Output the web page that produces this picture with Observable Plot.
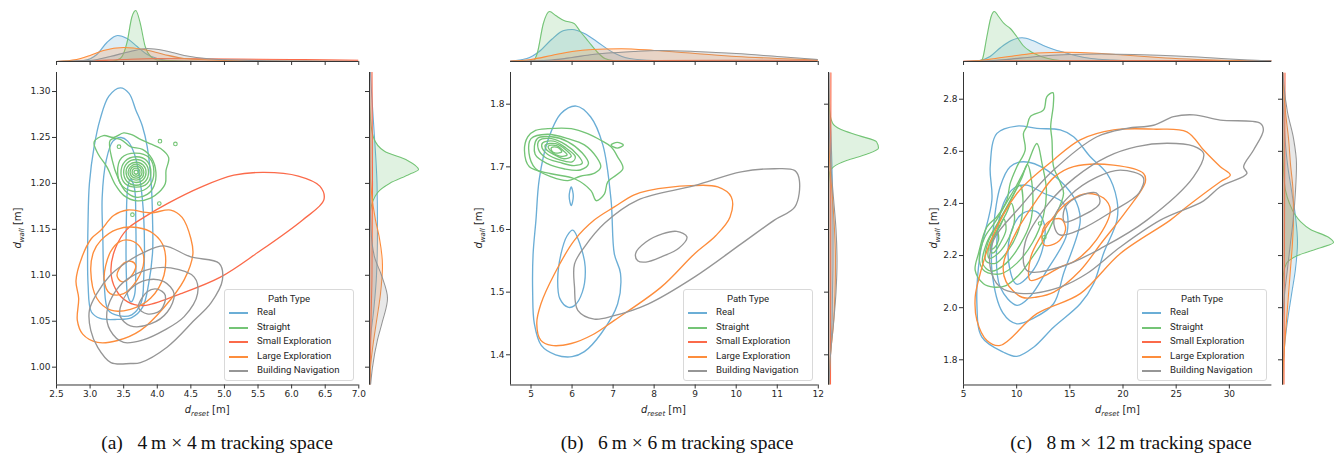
<!DOCTYPE html>
<html><head><meta charset="utf-8">
<script src="https://cdn.jsdelivr.net/npm/d3@7"></script>
<script src="https://cdn.jsdelivr.net/npm/@observablehq/plot@0.6"></script>
<style>
html,body{margin:0;padding:0;background:#fff;}
#root{position:relative;width:1340px;height:460px;overflow:hidden;background:#fff;}
.lab{font-family:"DejaVu Sans",sans-serif;font-size:10px;color:#262626;white-space:nowrap;}
.lab .sb{font-size:7px;position:relative;top:2.5px;font-style:italic;}
.cap{font-family:"Liberation Serif",serif;font-size:19.5px;color:#111;white-space:nowrap;transform:translateX(-50%);}
.leg{border:1px solid #d9d9d9;border-radius:3px;background:rgba(255,255,255,0.85);font-family:Roboto,"Noto Sans",sans-serif;font-size:9.6px;color:#262626;box-sizing:border-box;}
.leg .t{position:absolute;left:0;right:0;text-align:center;}
.leg .r{position:absolute;left:0;white-space:nowrap;}
.leg .sw{position:absolute;height:2px;}
</style></head>
<body><div id="root"></div>
<script>
// ---------- categories / styles ----------
const pathTypes = ["Real","Straight","Small Exploration","Large Exploration","Building Navigation"];
const palette = ["#6baed6","#74c476","#fb6a4a","#fd8d3c","#969696"];
const legendTitle = "Path Type";
const captions = ["(a)\u2002 4\u2009m × 4\u2009m tracking space","(b)\u2002 6\u2009m × 6\u2009m tracking space","(c)\u2002 8\u2009m × 12\u2009m tracking space"];

// ---------- axes (values) ----------
const xDomA=[2.5,7.0], yDomA=[0.9806,1.3207];
const xTicksA=[2.5,3.0,3.5,4.0,4.5,5.0,5.5,6.0,6.5,7.0], yTicksA=[1.00,1.05,1.10,1.15,1.20,1.25,1.30];
const xDomB=[4.5,12], yDomB=[1.3518,1.8506];
const xTicksB=[5,6,7,8,9,10,11,12], yTicksB=[1.4,1.5,1.6,1.7,1.8];
const xDomC=[5,34], yDomC=[1.7033,2.9025];
const xTicksC=[5,10,15,20,25,30], yTicksC=[1.8,2.0,2.2,2.4,2.6,2.8];

// ---------- panel (a) contours: closed rings of [d_reset, d_wall] ----------
const contA_Real = [
 [[3.45,1.304],[3.58,1.298],[3.68,1.28],[3.78,1.262],[3.85,1.24],[3.91,1.20],[3.93,1.16],[3.93,1.125],[3.87,1.09],[3.78,1.065],[3.62,1.054],[3.40,1.052],[3.15,1.053],[3.02,1.06],[2.97,1.09],[2.97,1.16],[2.99,1.20],[3.06,1.24],[3.15,1.27],[3.28,1.295]],
 [[3.46,1.250],[3.56,1.246],[3.66,1.232],[3.75,1.20],[3.80,1.16],[3.80,1.10],[3.76,1.07],[3.62,1.057],[3.42,1.056],[3.27,1.062],[3.21,1.09],[3.19,1.14],[3.18,1.185],[3.24,1.225],[3.34,1.246]],
 [[3.60,1.205],[3.66,1.195],[3.68,1.16],[3.68,1.10],[3.66,1.078],[3.61,1.071],[3.56,1.078],[3.54,1.10],[3.54,1.16],[3.56,1.195]]
];
const contA_Straight = [
 [[3.06,1.245],[3.2,1.252],[3.35,1.25],[3.5,1.255],[3.62,1.253],[3.75,1.248],[3.9,1.243],[4.05,1.238],[4.17,1.228],[4.13,1.214],[4.12,1.2],[4.02,1.19],[3.9,1.184],[3.7,1.181],[3.5,1.187],[3.38,1.198],[3.25,1.218],[3.12,1.232]],
 [[3.3,1.247],[3.45,1.248],[3.6,1.24],[3.78,1.237],[3.92,1.227],[3.98,1.212],[3.95,1.197],[3.85,1.188],[3.68,1.185],[3.52,1.192],[3.42,1.205],[3.33,1.225]],
 [[3.95,1.213],[3.88,1.228],[3.68,1.233],[3.47,1.228],[3.41,1.212],[3.48,1.197],[3.69,1.191],[3.88,1.197]],
 [[3.905,1.212],[3.84,1.225],[3.68,1.229],[3.52,1.224],[3.46,1.211],[3.52,1.200],[3.69,1.196],[3.85,1.200]],
 [[3.87,1.212],[3.82,1.222],[3.685,1.226],[3.55,1.222],[3.50,1.212],[3.55,1.202],[3.685,1.198],[3.82,1.202]],
 [[3.833,1.212],[3.79,1.220],[3.684,1.223],[3.58,1.220],[3.535,1.212],[3.58,1.204],[3.684,1.201],[3.79,1.204]],
 [[3.80,1.212],[3.77,1.218],[3.684,1.221],[3.60,1.218],[3.565,1.212],[3.60,1.206],[3.684,1.2035],[3.77,1.206]],
 [[3.773,1.212],[3.747,1.217],[3.684,1.2187],[3.621,1.217],[3.595,1.212],[3.621,1.2075],[3.684,1.2057],[3.747,1.2075]],
 [[3.743,1.2122],[3.726,1.2153],[3.684,1.2166],[3.642,1.2153],[3.625,1.2122],[3.642,1.2091],[3.684,1.2078],[3.726,1.2091]],
 [[3.714,1.2122],[3.705,1.2137],[3.684,1.2144],[3.663,1.2137],[3.654,1.2122],[3.663,1.2107],[3.684,1.21],[3.705,1.2107]]
];
const dotsA_Straight = [[3.43,1.240],[4.04,1.246],[4.27,1.243],[4.03,1.178],[3.63,1.166]];
const contA_Small = [
 [[3.31,1.105],[3.38,1.13],[3.55,1.15],[3.8,1.163],[4.15,1.178],[4.65,1.196],[5.14,1.209],[5.59,1.212],[6.1,1.208],[6.42,1.197],[6.48,1.182],[6.16,1.160],[5.5,1.125],[4.94,1.098],[4.35,1.080],[3.80,1.067],[3.56,1.071],[3.38,1.085]]
];
const contA_Large = [
 [[3.16,1.149],[3.35,1.165],[3.56,1.171],[3.9,1.168],[4.2,1.171],[4.37,1.163],[4.5,1.14],[4.53,1.123],[4.4,1.095],[4.1,1.065],[3.75,1.040],[3.41,1.029],[3.11,1.027],[2.89,1.036],[2.81,1.051],[2.83,1.075],[2.79,1.094],[2.88,1.12],[3.02,1.14]],
 [[3.16,1.138],[3.4,1.15],[3.7,1.152],[3.95,1.145],[4.1,1.13],[4.1,1.10],[3.9,1.075],[3.6,1.063],[3.31,1.062],[3.1,1.075],[3.01,1.105],[3.05,1.125]],
 [[3.21,1.095],[3.3,1.125],[3.45,1.137],[3.6,1.138],[3.75,1.13],[3.8,1.115],[3.7,1.095],[3.5,1.08],[3.3,1.08]],
 [[3.40,1.10],[3.5,1.113],[3.62,1.115],[3.68,1.11],[3.6,1.098],[3.47,1.093]]
];
const contA_Building = [
 [[2.99,1.062],[3.1,1.08],[3.3,1.1],[3.5,1.112],[3.8,1.125],[4.1,1.132],[4.5,1.12],[4.92,1.113],[4.97,1.095],[4.8,1.07],[4.55,1.051],[4.15,1.022],[3.75,1.005],[3.6,1.004],[3.31,1.005],[3.11,1.022],[3.01,1.04]],
 [[3.25,1.06],[3.4,1.085],[3.6,1.098],[3.9,1.107],[4.2,1.108],[4.55,1.098],[4.6,1.08],[4.4,1.055],[4.1,1.04],[3.8,1.03],[3.5,1.027],[3.3,1.04]],
 [[3.45,1.065],[3.6,1.085],[3.85,1.095],[4.1,1.093],[4.25,1.08],[4.15,1.06],[3.9,1.047],[3.6,1.045],[3.45,1.055]],
 [[3.72,1.065],[3.85,1.082],[4.0,1.085],[4.12,1.078],[4.05,1.062],[3.85,1.058]]
];
// marginals (a): [value, density height]
const topA_Real=[[2.5,0],[2.9,1],[3.1,7],[3.25,19],[3.41,26],[3.55,23],[3.7,15],[3.85,7],[4.0,3],[4.2,1],[4.5,0.3],[5,0],[7,0]];
const topA_Straight=[[2.5,0],[3.3,0],[3.45,3],[3.55,19],[3.62,44],[3.68,51],[3.74,40],[3.82,15],[3.9,5],[4.0,1.5],[4.3,0.5],[5,0],[7,0]];
const topA_Small=[[2.5,0],[3.0,0.5],[3.5,2],[4.0,3],[5.0,2.5],[6.0,2],[7.0,1.2]];
const topA_Large=[[2.5,0],[2.8,2],[3.0,6],[3.2,11],[3.5,14],[3.8,12],[4.1,7],[4.4,3],[4.8,1.5],[5.5,0.5],[7,0]];
const topA_Building=[[2.5,0],[3.0,1],[3.3,5],[3.6,10],[3.85,13],[4.1,11],[4.4,6],[4.8,2.5],[5.5,1],[6.5,0.3],[7,0]];
const sideA_Real=[[0.98,0.3],[1.03,1],[1.06,4],[1.1,7],[1.15,8],[1.2,7.5],[1.25,5],[1.3,2],[1.321,1]];
const sideA_Straight=[[0.98,0],[1.15,0],[1.17,1],[1.19,8],[1.2,20],[1.21,40],[1.215,49],[1.225,38],[1.235,15],[1.25,4],[1.27,1],[1.3,0],[1.321,0]];
const sideA_Small=[[0.98,0.5],[1.05,1.5],[1.1,2.5],[1.2,3],[1.321,2.5]];
const sideA_Large=[[0.98,0.3],[1.0,1],[1.02,3],[1.05,7],[1.08,11],[1.11,13],[1.14,10],[1.16,6],[1.19,2],[1.22,0.5],[1.321,0]];
const sideA_Building=[[0.98,1],[1.0,3],[1.03,8],[1.05,13],[1.075,18],[1.1,12],[1.12,5],[1.15,1.5],[1.2,0.5],[1.321,0]];

// ---------- panel (b) ----------
const contB_Real = [
 [[5.73,1.785],[6.10,1.797],[6.45,1.78],[6.75,1.735],[6.95,1.647],[7.03,1.561],[7.18,1.53],[7.11,1.481],[6.71,1.434],[6.3,1.405],[6.0,1.397],[5.6,1.4],[5.25,1.415],[5.08,1.45],[5.04,1.50],[5.05,1.56],[5.12,1.615],[5.2,1.68],[5.41,1.742]],
 [[6.02,1.599],[6.2,1.575],[6.32,1.54],[6.25,1.5],[6.05,1.478],[5.9,1.476],[5.7,1.49],[5.65,1.52],[5.73,1.561],[5.88,1.59]],
 [[5.98,1.668],[6.03,1.653],[5.98,1.638],[5.93,1.653]]
];
const contB_Straight = [
 [[4.92,1.748],[5.1,1.758],[5.41,1.761],[5.98,1.761],[6.38,1.753],[6.71,1.742],[6.95,1.732],[7.11,1.716],[7.24,1.697],[6.87,1.676],[6.79,1.657],[6.59,1.646],[6.46,1.662],[6.06,1.681],[5.49,1.689],[4.96,1.700],[4.84,1.726]],
 [[5.0,1.745],[5.4,1.752],[5.9,1.745],[6.3,1.735],[6.6,1.715],[6.7,1.70],[6.55,1.69],[6.2,1.685],[5.9,1.678],[5.5,1.684],[5.1,1.698],[4.95,1.722]],
 [[5.15,1.745],[5.5,1.748],[5.9,1.74],[6.25,1.722],[6.4,1.705],[6.2,1.695],[5.8,1.697],[5.4,1.705],[5.1,1.72]],
 [[5.2,1.742],[5.5,1.745],[5.85,1.735],[6.15,1.718],[6.25,1.706],[6.05,1.702],[5.7,1.707],[5.35,1.715],[5.18,1.728]],
 [[5.28,1.738],[5.55,1.741],[5.85,1.73],[6.08,1.716],[6.0,1.708],[5.7,1.711],[5.4,1.72],[5.27,1.73]],
 [[5.35,1.735],[5.6,1.737],[5.85,1.727],[5.98,1.717],[5.8,1.713],[5.55,1.72],[5.37,1.728]],
 [[5.42,1.733],[5.62,1.734],[5.8,1.725],[5.88,1.719],[5.7,1.717],[5.5,1.724]],
 [[5.5,1.731],[5.65,1.731],[5.75,1.724],[5.6,1.722],[5.5,1.726]],
 [[6.95,1.735],[7.1,1.739],[7.25,1.735],[7.1,1.730]]
];
const dotsB_Straight = [];
const contB_Small = [];
const contB_Large = [
 [[6.54,1.615],[7.03,1.636],[7.5,1.655],[7.85,1.662],[8.9,1.670],[9.55,1.668],[9.88,1.652],[9.85,1.62],[9.5,1.59],[8.98,1.561],[8.17,1.508],[7.03,1.455],[6.5,1.432],[5.98,1.418],[5.5,1.415],[5.24,1.423],[5.14,1.45],[5.24,1.481],[5.57,1.529],[6.06,1.583]]
];
const contB_Building = [
 [[6.30,1.572],[6.79,1.61],[7.6,1.647],[8.98,1.670],[10.12,1.692],[10.93,1.697],[11.43,1.694],[11.54,1.678],[11.43,1.636],[10.93,1.615],[10.12,1.577],[8.98,1.524],[7.85,1.481],[7.0,1.462],[6.54,1.457],[6.14,1.471],[6.06,1.508],[6.06,1.545]],
 [[7.55,1.562],[7.8,1.58],[8.2,1.593],[8.55,1.597],[8.8,1.588],[8.6,1.57],[8.2,1.557],[7.8,1.548],[7.6,1.55]]
];
const topB_Real=[[4.5,0.5],[4.9,3],[5.2,10],[5.5,22],[5.8,31],[6.0,32],[6.3,28],[6.6,20],[7.0,9],[7.4,3],[8.0,1],[9,0.2],[12,0]];
const topB_Straight=[[4.5,0],[5.05,0.5],[5.15,8],[5.3,38],[5.45,50],[5.6,46],[5.8,41],[6.05,38],[6.2,30],[6.4,20],[6.6,10],[6.8,3],[7.0,1],[7.5,0.2],[12,0]];
const topB_Small=[[4.5,0.3],[6,0.6],[8,1],[10,1.2],[12,1.3]];
const topB_Large=[[4.5,0.3],[5.0,2],[5.5,6],[6.0,10],[6.5,12],[7.2,12.7],[8.0,11],[9.0,8],[10,5],[11,3],[12,1.5]];
const topB_Building=[[4.5,0],[5.5,1.5],[6.0,4],[6.5,7],[7.5,10],[8.1,11],[9.0,10],[10,8],[11,5],[12,2]];
const sideB_Real=[[1.35,0.5],[1.4,2],[1.45,3.5],[1.5,4],[1.55,4.5],[1.6,4.5],[1.65,4],[1.7,3.5],[1.75,2.5],[1.8,1],[1.85,0.5]];
const sideB_Straight=[[1.35,0],[1.66,0],[1.69,1],[1.70,5],[1.71,18],[1.72,38],[1.73,50],[1.74,48],[1.75,30],[1.76,12],[1.77,4],[1.79,1],[1.82,0],[1.85,0]];
const sideB_Small=[[1.35,2],[1.6,2.2],[1.85,2.4]];
const sideB_Large=[[1.35,0.3],[1.4,2],[1.45,5],[1.5,6.5],[1.55,7],[1.6,6],[1.65,4],[1.7,1.5],[1.75,0.5],[1.85,0]];
const sideB_Building=[[1.35,0.5],[1.4,2],[1.45,5],[1.5,7.5],[1.55,8.5],[1.6,7.5],[1.65,5],[1.7,2.5],[1.75,1],[1.8,0.3],[1.85,0]];

// ---------- panel (c) ----------
const contC_Real = [
 [[10.02,2.697],[11.9,2.688],[14.1,2.682],[15.35,2.656],[16.92,2.579],[18.49,2.515],[19.43,2.413],[19.43,2.336],[18.17,2.208],[17.23,2.092],[15.98,2.015],[13.47,1.925],[11.59,1.848],[10.02,1.813],[8.76,1.829],[6.73,1.887],[6.26,2.015],[6.57,2.208],[7.67,2.413],[7.51,2.541],[8.14,2.669]],
 [[10.64,2.560],[12.84,2.528],[15.35,2.425],[15.98,2.336],[14.41,2.131],[13.47,2.015],[11.6,1.96],[10.02,1.938],[8.7,1.98],[7.67,2.143],[7.8,2.3],[8.45,2.464],[9.39,2.541]],
 [[10.96,2.470],[12.5,2.44],[14.41,2.40],[14.73,2.285],[12.84,2.143],[11.2,2.04],[10.02,2.009],[8.45,2.079],[8.14,2.259],[8.76,2.40],[9.8,2.46]],
 [[10.0,2.09],[11.3,2.13],[12.4,2.22],[12.6,2.32],[11.8,2.37],[10.5,2.36],[9.4,2.28],[9.3,2.16]]
];
const contC_Straight = [
 [[13.41,2.825],[13.45,2.78],[13.2,2.695],[13.32,2.644],[13.47,2.541],[14.1,2.48],[14.41,2.438],[13.47,2.336],[12.53,2.259],[11.27,2.182],[10.33,2.131],[9.0,2.085],[7.82,2.079],[6.88,2.092],[6.10,2.143],[6.41,2.208],[7.2,2.31],[8.14,2.349],[9.08,2.413],[9.39,2.477],[10.02,2.541],[10.8,2.605],[10.64,2.669],[10.96,2.695],[11.28,2.733],[12.53,2.759],[12.84,2.81]],
 [[11.9,2.63],[12.4,2.55],[12.8,2.45],[12.5,2.35],[11.5,2.25],[10.0,2.17],[8.5,2.13],[7.0,2.14],[6.5,2.18],[7.0,2.27],[8.0,2.33],[9.0,2.40],[10.0,2.47],[11.0,2.55]],
 [[11.0,2.55],[11.5,2.45],[11.3,2.33],[10.3,2.24],[9.0,2.17],[7.6,2.14],[6.8,2.17],[7.2,2.25],[8.3,2.33],[9.5,2.42],[10.5,2.5]],
 [[10.3,2.47],[10.6,2.40],[10.2,2.30],[9.2,2.22],[8.0,2.17],[7.1,2.18],[7.3,2.25],[8.2,2.32],[9.3,2.40]],
 [[9.5,2.40],[9.8,2.34],[9.3,2.27],[8.3,2.21],[7.4,2.19],[7.4,2.24],[8.2,2.30],[9.0,2.36]],
 [[8.8,2.34],[9.0,2.30],[8.5,2.25],[7.8,2.21],[7.5,2.22],[7.8,2.27],[8.4,2.31]],
 [[8.2,2.29],[8.3,2.26],[7.9,2.23],[7.6,2.225],[7.7,2.255],[8.0,2.28]]
];
const dotsC_Straight = [[12.2,2.323],[12.6,2.27]];
const contC_Small = [];
const contC_Large = [
 [[19.11,2.682],[22.87,2.685],[26.0,2.675],[27.58,2.605],[29.15,2.541],[30.09,2.509],[29.15,2.483],[26.0,2.387],[24.45,2.336],[19.75,2.208],[15.98,2.054],[11.9,1.977],[8.45,1.855],[7.2,1.874],[6.26,1.951],[6.10,2.041],[6.41,2.105],[7.5,2.25],[10.02,2.438],[13.47,2.567],[15.98,2.644]],
 [[15.35,2.541],[19.11,2.547],[21.93,2.515],[22.1,2.483],[20.37,2.374],[18.0,2.25],[15.98,2.143],[13.5,2.06],[11.9,2.041],[10.5,2.04],[9.0,2.10],[8.76,2.169],[10.02,2.295],[12.0,2.42],[13.5,2.5]],
 [[16.61,2.438],[18.2,2.42],[18.8,2.374],[17.5,2.26],[15.5,2.18],[14.1,2.156],[12.5,2.12],[11.27,2.105],[11.3,2.19],[12.2,2.27],[13.5,2.35],[15.0,2.41]],
 [[13.0,2.33],[14.2,2.34],[14.6,2.30],[13.8,2.25],[12.6,2.24],[12.4,2.29]]
];
const contC_Building = [
 [[26.63,2.740],[29.15,2.72],[32.9,2.708],[33.2,2.682],[32.28,2.605],[31.34,2.541],[31.65,2.515],[29.15,2.464],[27.58,2.41],[23.51,2.336],[19.75,2.233],[16.61,2.131],[14.1,2.079],[10.64,2.054],[8.45,2.079],[7.51,2.156],[7.82,2.259],[10.33,2.387],[13.47,2.528],[17.55,2.656],[20.37,2.688],[22.87,2.70],[24.76,2.733]],
 [[24.13,2.631],[26.63,2.62],[27.58,2.592],[26.63,2.502],[22.25,2.336],[18.17,2.233],[14.1,2.156],[10.96,2.143],[10.8,2.25],[13.0,2.40],[15.5,2.50],[18.49,2.579],[21.3,2.618]],
 [[19.75,2.528],[21.9,2.50],[21.5,2.44],[19.0,2.37],[16.0,2.30],[14.0,2.28],[13.5,2.34],[15.0,2.43],[17.5,2.50]],
 [[15.5,2.42],[17.5,2.44],[17.8,2.40],[16.0,2.35],[14.5,2.33],[14.5,2.38]]
];
const topC_Real=[[5,0],[6.5,1],[7.5,5],[8.5,14],[9.5,21],[10.5,23.7],[11.5,21],[12.5,16],[13.5,12],[14.5,9],[15.5,6],[17,3],[19,1.5],[22,0.5],[34,0]];
const topC_Straight=[[5,0],[6.6,0],[6.8,3],[7.2,25],[7.6,45],[7.9,50],[8.3,45],[8.8,38],[9.4,33],[10.0,25],[10.6,16],[11.3,10],[12.3,5],[13.5,1.7],[15,0.3],[34,0]];
const topC_Small=[[5,0.3],[10,0.8],[20,1],[34,1]];
const topC_Large=[[5,0],[6.5,1],[8,3],[10,6],[12,8.5],[14.4,9.3],[16,9],[18,8],[20,6.5],[22,5],[24,3.5],[27,2],[30,1],[34,0.3]];
const topC_Building=[[5,0],[7,0.5],[9,2],[11,4],[13,6],[15,7],[18,7.5],[21,7],[24,6],[27,4.5],[30,2.5],[33,1],[34,0.7]];
const sideC_Real=[[1.7,0.2],[1.75,0.3],[1.85,2],[1.95,5],[2.05,9],[2.15,13],[2.25,15],[2.35,13],[2.45,9],[2.55,5],[2.65,2.5],[2.75,1],[2.85,0.3],[2.9,0.2]];
const sideC_Straight=[[1.7,0],[2.05,0],[2.13,1],[2.17,4],[2.2,15],[2.23,38],[2.25,51],[2.27,46],[2.3,28],[2.33,18],[2.36,12],[2.4,7],[2.45,3],[2.5,1.5],[2.6,0.5],[2.8,0],[2.9,0]];
const sideC_Small=[[1.7,1.5],[2.3,2],[2.9,2.5]];
const sideC_Large=[[1.7,0.2],[1.75,0.5],[1.85,2],[1.95,4],[2.05,6],[2.15,8],[2.25,10],[2.35,11],[2.45,10.5],[2.55,8],[2.65,6],[2.75,3],[2.85,1],[2.9,0.5]];
const sideC_Building=[[1.7,0],[1.95,0.3],[2.05,2],[2.15,5],[2.25,8],[2.35,11],[2.45,13],[2.55,14],[2.65,11],[2.75,5],[2.85,1.5],[2.9,0.5]];

// ---------- assemble ----------
const panels = [
 {xDomain:xDomA,yDomain:yDomA,xTicks:xTicksA,yTicks:yTicksA,xFmt:".1f",yFmt:".2f",
  cont:[contA_Real,contA_Straight,contA_Small,contA_Large,contA_Building],dots:dotsA_Straight,
  top:[topA_Real,topA_Straight,topA_Small,topA_Large,topA_Building],side:[sideA_Real,sideA_Straight,sideA_Small,sideA_Large,sideA_Building]},
 {xDomain:xDomB,yDomain:yDomB,xTicks:xTicksB,yTicks:yTicksB,xFmt:"d",yFmt:".1f",
  cont:[contB_Real,contB_Straight,contB_Small,contB_Large,contB_Building],dots:dotsB_Straight,
  top:[topB_Real,topB_Straight,topB_Small,topB_Large,topB_Building],side:[sideB_Real,sideB_Straight,sideB_Small,sideB_Large,sideB_Building]},
 {xDomain:xDomC,yDomain:yDomC,xTicks:xTicksC,yTicks:yTicksC,xFmt:"d",yFmt:".1f",
  cont:[contC_Real,contC_Straight,contC_Small,contC_Large,contC_Building],dots:dotsC_Straight,
  top:[topC_Real,topC_Straight,topC_Small,topC_Large,topC_Building],side:[sideC_Real,sideC_Straight,sideC_Small,sideC_Large,sideC_Building]}
];

// ---------- layout (pixels) ----------
const FT = 72, FB = 384.5;          // main frame top/bottom
const MT = 8, MB = 61;              // top marginal frame
const SW = 62;                      // side marginal width
const layout = [
 {L:56,   R:358.3, side:369,   yLabX:17,  capX:217},
 {L:509.5,R:817.3, side:828,   yLabX:478, capX:677},
 {L:963.3,R:1271.7,side:1282.3,yLabX:933, capX:1131}
];
const axisStyle = {fontFamily:"DejaVu Sans",fontSize:"9px",color:"#262626",background:"transparent",overflow:"visible"};

const root = document.getElementById("root");
function place(el, left, top){ el.style.position="absolute"; el.style.left=left+"px"; el.style.top=top+"px"; root.appendChild(el); return el; }

panels.forEach((p, pi) => {
  const lay = layout[pi];
  const w = lay.R - lay.L, h = FB - FT;
  // main joint plot
  const ml=60, mr=10, mt=10, mb=30;
  const marks = [];
  p.cont.forEach((rings, k) => {
    const rows = rings.flatMap((r, i) => r.map(([x, y]) => ({x, y, id: i})));
    if (rows.length) marks.push(Plot.line(rows, {x:"x", y:"y", z:"id", stroke:palette[k], strokeWidth:1.35, curve:"catmull-rom-closed", clip:true}));
  });
  if (p.dots.length) marks.push(Plot.dot(p.dots, {x:d=>d[0], y:d=>d[1], r:1.8, stroke:palette[1], strokeWidth:1.1, fill:"none"}));
  marks.push(Plot.ruleX([p.xDomain[0]], {stroke:"#333", strokeWidth:1}));
  marks.push(Plot.ruleY([p.yDomain[0]], {stroke:"#333", strokeWidth:1}));
  marks.push(Plot.axisX({ticks:p.xTicks, tickFormat:d3.format(p.xFmt), tickSize:4, tickPadding:2, label:null, stroke:"#333"}));
  marks.push(Plot.axisY({ticks:p.yTicks, tickFormat:d3.format(p.yFmt), tickSize:4, tickPadding:2, label:null, stroke:"#333"}));
  const main = Plot.plot({width:w+ml+mr, height:h+mt+mb, marginLeft:ml, marginRight:mr, marginTop:mt, marginBottom:mb,
    x:{domain:p.xDomain, label:null}, y:{domain:p.yDomain, label:null}, style:axisStyle, marks});
  place(main, lay.L-ml, FT-mt);

  // top marginal
  const tm = [];
  p.top.forEach((ser, k) => {
    tm.push(Plot.areaY(ser, {x:d=>d[0], y:d=>d[1], fill:palette[k], fillOpacity:0.22, curve:"monotone-x", clip:true}));
    tm.push(Plot.lineY(ser, {x:d=>d[0], y:d=>d[1], stroke:palette[k], strokeWidth:1.1, curve:"monotone-x", clip:true}));
  });
  tm.push(Plot.ruleY([0], {stroke:"#333", strokeWidth:1}));
  tm.push(Plot.axisX({ticks:p.xTicks, tickFormat:()=>"", tickSize:4, label:null, stroke:"#333"}));
  const top = Plot.plot({width:w+20, height:(MB-MT)+10, marginLeft:10, marginRight:10, marginTop:0, marginBottom:10,
    x:{domain:p.xDomain, label:null}, y:{domain:[0, MB-MT], axis:null}, style:axisStyle, marks:tm});
  place(top, lay.L-10, MT);

  // side marginal
  const sm = [];
  p.side.forEach((ser, k) => {
    sm.push(Plot.areaX(ser, {y:d=>d[0], x:d=>d[1], fill:palette[k], fillOpacity:0.22, curve:"monotone-y", clip:true}));
    sm.push(Plot.lineX(ser, {y:d=>d[0], x:d=>d[1], stroke:palette[k], strokeWidth:1.1, curve:"monotone-y", clip:true}));
  });
  sm.push(Plot.ruleX([0], {stroke:"#333", strokeWidth:1}));
  sm.push(Plot.axisY({ticks:p.yTicks, tickFormat:()=>"", tickSize:4, label:null, stroke:"#333"}));
  const side = Plot.plot({width:SW+10, height:h, marginLeft:10, marginRight:0, marginTop:0, marginBottom:0,
    x:{domain:[0, SW], axis:null}, y:{domain:p.yDomain, label:null}, style:axisStyle, marks:sm});
  place(side, lay.side-10, FT);

  // axis labels
  const xl = document.createElement("div");
  xl.className = "lab";
  xl.innerHTML = '<i>d</i><span class="sb">reset</span> [m]';
  place(xl, 0, 404);
  xl.style.left = ((lay.L+lay.R)/2) + "px";
  xl.style.transform = "translateX(-50%)";
  const yl = document.createElement("div");
  yl.className = "lab";
  yl.innerHTML = '<i>d</i><span class="sb">wall</span> [m]';
  place(yl, lay.yLabX, (FT+FB)/2);
  yl.style.transform = "translate(-50%,-50%) rotate(-90deg)";

  // legend
  const lg = document.createElement("div");
  lg.className = "leg";
  lg.style.width = "130px"; lg.style.height = "92px";
  let html = `<div class="t" style="top:3px">${legendTitle}</div>`;
  pathTypes.forEach((t, k) => {
    const cy = Math.round(23 + k*14.6);
    html += `<div class="sw" style="left:4px;width:19px;top:${cy-1}px;background-color:${palette[k]}"></div>`;
    html += `<div class="r" style="left:32px;top:${cy-7}px">${t}</div>`;
  });
  lg.innerHTML = html;
  place(lg, Math.round(lay.R-134.5), 289);

  // caption
  const cp = document.createElement("div");
  cp.className = "cap";
  cp.textContent = captions[pi];
  place(cp, lay.capX, 432);
});
</script>
</body></html>
